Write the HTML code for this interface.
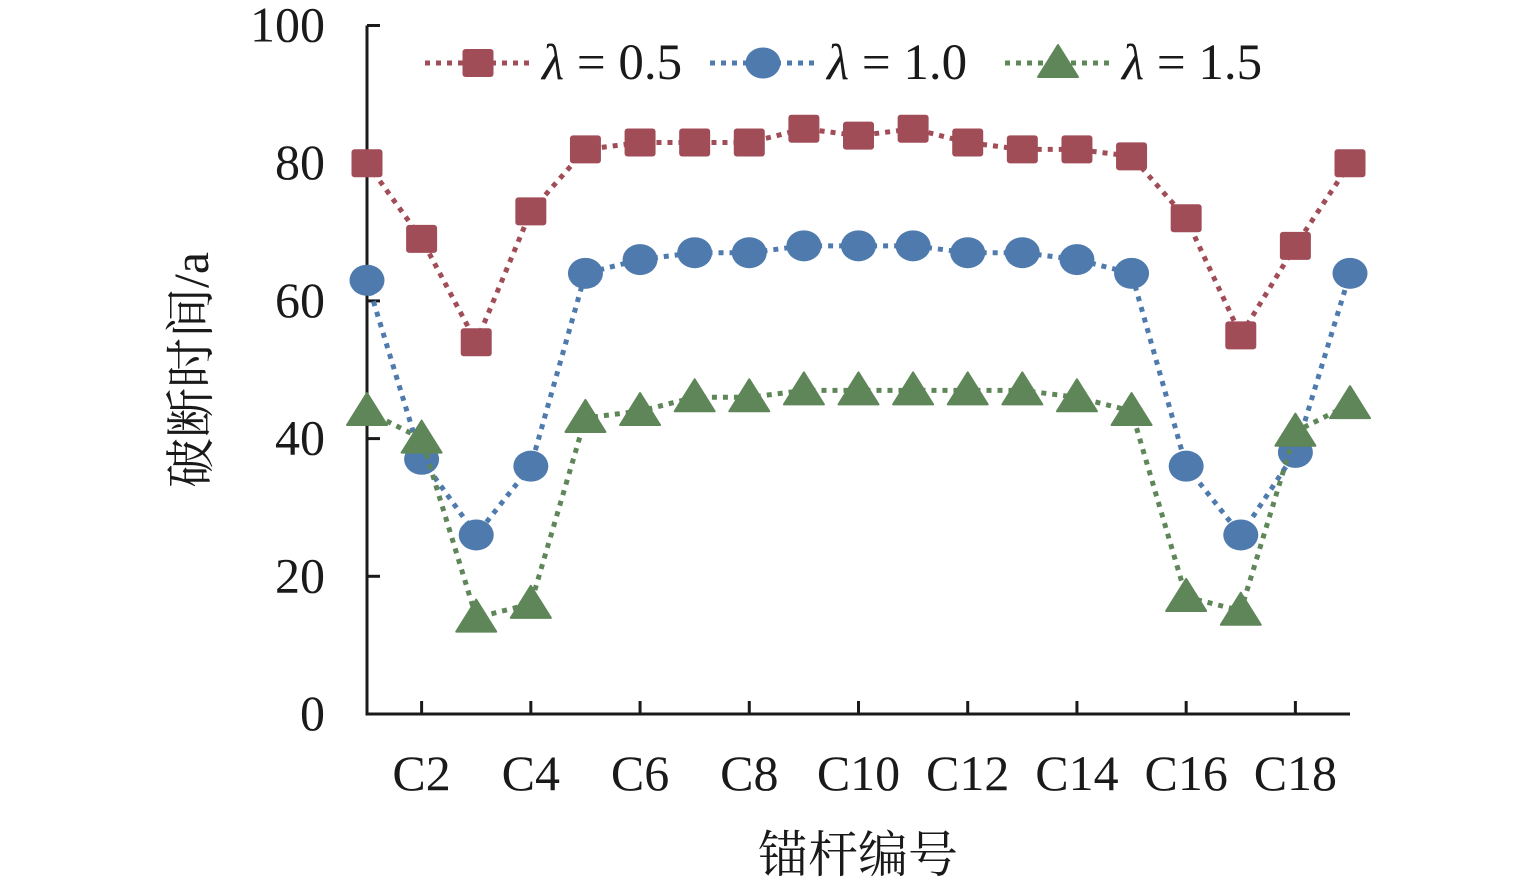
<!DOCTYPE html>
<html><head><meta charset="utf-8"><style>
html,body{margin:0;padding:0;background:#fff;}
svg text{font-family:"Liberation Serif","Noto Serif CJK SC",serif;fill:#1a1a1a;}
</style></head><body>
<svg id="chart" width="1535" height="883" viewBox="0 0 1535 883">
<g id="axes"></g><g id="series"></g><g id="legend"></g>
</svg>
<script>
const categories = ["C1","C2","C3","C4","C5","C6","C7","C8","C9","C10","C11","C12","C13","C14","C15","C16","C17","C18","C19"];
const seriesA = [80,69,54,73,82,83,83,83,85,84,85,83,82,82,81,72,55,68,80];
const seriesB = [63,37,26,36,64,66,67,67,68,68,68,67,67,66,64,36,26,38,64];
const seriesC = [44,40,14,16,43,44,46,46,47,47,47,47,47,46,44,17,15,41,45];
const yTicks = [0,20,40,60,80,100];
const legendLabels = ["0.5","1.0","1.5"];

const NS="http://www.w3.org/2000/svg";
const x0=367,x1=1350,y0=714,y100=25.5;
const xs=i=>x0+i*(x1-x0)/(categories.length-1);
const ys=v=>y0-(y0-y100)*v/100;
function mk(tag,attrs,parent){const e=document.createElementNS(NS,tag);for(const k in attrs)e.setAttribute(k,attrs[k]);parent.appendChild(e);return e;}
const axes=document.getElementById('axes'),ser=document.getElementById('series'),leg=document.getElementById('legend');

let l=mk('path',{d:`M${x0} ${y100}V${y0}H${x1}`,stroke:'#1a1a1a','stroke-width':3,fill:'none'},axes);


yTicks.forEach(v=>{
  const t=mk('line',{x1:x0,x2:x0+13,y1:ys(v),y2:ys(v),stroke:'#1a1a1a','stroke-width':3},axes);
  
  
  const tx=mk('text',{x:325,y:ys(v)+16,'text-anchor':'end','font-size':50},axes);
  tx.textContent=v;
  
  
});
categories.forEach((c,i)=>{
  if(i%2!==1)return;
  const t=mk('line',{x1:xs(i),x2:xs(i),y1:y0,y2:y0-13,stroke:'#1a1a1a','stroke-width':3},axes);
  
  
  const tx=mk('text',{x:xs(i),y:790,'text-anchor':'middle','font-size':50},axes);
  tx.textContent=c;
  
  
});
let xt=mk('text',{x:858,y:872,'text-anchor':'middle','font-size':50},axes);
xt.textContent='锚杆编号';


let yt=mk('text',{x:0,y:0,'text-anchor':'middle','font-size':50,transform:'translate(208,370) rotate(-90)'},axes);
yt.textContent='破断时间/a';



function marker(type,cx,cy,color,parent){
  if(type==='sq')return mk('rect',{x:cx-15.5,y:cy-14,width:31,height:28,rx:3,fill:color},parent);
  if(type==='ci')return mk('ellipse',{cx:cx,cy:cy,rx:17.5,ry:15.5,fill:color},parent);
  return mk('path',{d:`M${cx} ${cy-18}L${cx+20} ${cy+14}H${cx-20}Z`,fill:color,'stroke-linejoin':'round',stroke:color,'stroke-width':2},parent);
}
const defs=[[seriesA,'#A14D58','sq','series-lambda-0.5'],[seriesB,'#4E7AAD','ci','series-lambda-1.0'],[seriesC,'#5E8658','tr','series-lambda-1.5']];
defs.forEach(([data,col,type,name])=>{
  const g=mk('g',{},ser);
  
  
  const ln=mk('polyline',{points:data.map((v,i)=>xs(i)+','+ys(v)).join(' '),fill:'none',stroke:col,'stroke-width':5,'stroke-dasharray':'5 6'},g);
  
  
  data.forEach((v,i)=>{
    const m=marker(type,xs(i),ys(v),col,g);
    
    
  });
});
const legX=[425,710,1005];
defs.forEach(([d,col,type,name],k)=>{
  const g=mk('g',{},leg);
  
  
  mk('line',{x1:legX[k],x2:legX[k]+105,y1:63,y2:63,stroke:col,'stroke-width':5,'stroke-dasharray':'5 6'},g);
  marker(type,legX[k]+53,63,col,g);
  const t=mk('text',{x:legX[k]+117,y:79,'font-size':51},g);
  t.innerHTML='<tspan font-style="italic">λ</tspan> = '+legendLabels[k];
});
</script>
</body></html>
